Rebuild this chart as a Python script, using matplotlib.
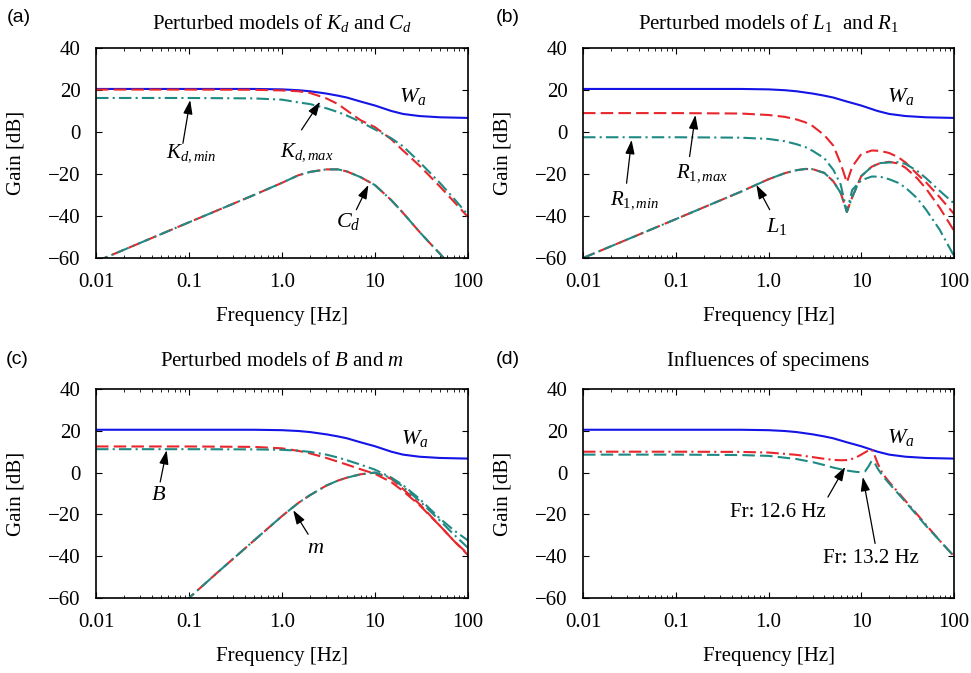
import matplotlib
matplotlib.use('Agg')
import matplotlib.pyplot as plt
from matplotlib.ticker import NullFormatter

plt.rcParams['font.family'] = ['Liberation Serif', 'DejaVu Serif']
plt.rcParams['mathtext.fontset'] = 'custom'
plt.rcParams['mathtext.rm'] = 'Liberation Serif'
plt.rcParams['mathtext.it'] = 'Liberation Serif:italic'
plt.rcParams['mathtext.bf'] = 'Liberation Serif:bold'

# ---- data (frequency in Hz, gain in dB) ----
xticks = [0.01, 0.1, 1, 10, 100]
xticklabels = ['0.01', '0.1', '1.0', '10', '100']
yticks = [-60, -40, -20, 0, 20, 40]
yticklabels = ['\u221260', '\u221240', '\u221220', '0', '20', '40']

# weighting function W_a (same in all panels)
wa_f = [0.01, 0.1, 0.5, 1, 1.5, 2, 3, 4, 5, 7, 10, 15, 20, 30, 50, 100]
wa_g = [20.5, 20.5, 20.5, 20.3, 19.9, 19.4, 18.3, 17.3, 16.4, 14.5, 12.6, 10.0, 8.6, 7.6, 7.0, 6.7]

# (a) K_d and C_d
a_f = [0.01, 0.1, 0.5, 1, 1.5, 2, 3, 4, 5, 7, 10, 15, 20, 30, 50, 70, 100]
kd_max = [20.2, 20.2, 20.1, 19.8, 19.4, 18.6, 16.0, 13.3, 10.2, 5.6, 2.3, -3.5, -8.8, -16.0, -26.0, -33.0, -40.5]
kd_min = [16.2, 16.2, 16.0, 15.4, 14.1, 13.3, 11.3, 9.5, 7.8, 4.8, 1.2, -3.0, -6.8, -14.2, -24.3, -31.5, -39.5]
cd_f = [0.01, 0.1, 0.5, 1, 1.5, 2, 3, 4, 5, 7, 10, 15, 20, 30, 40, 50, 60]
cd_g = [-61.7, -43.0, -30.0, -24.2, -20.6, -19.0, -17.8, -17.8, -18.8, -21.5, -25.3, -32.5, -38.5, -47.5, -53.5, -58.0, -62.0]

# (b) L_1 and R_1
b_f = [0.01, 0.1, 0.5, 1, 1.5, 2, 2.5, 3, 4, 5, 6, 7, 8, 10, 13, 16, 20, 25, 30, 40, 50, 70, 100]
r1_max = [9.0, 9.0, 8.8, 8.1, 7.2, 6.0, 4.6, 2.8, -1.5, -6.5, -15.0, -24.0, -16.5, -10.5, -8.8, -9.0, -10.0, -12.0, -14.5, -20.0, -24.0, -31.0, -39.0]
r1_min = [-2.5, -2.5, -2.7, -3.3, -4.4, -5.8, -7.2, -9.0, -12.5, -18.0, -25.0, -38.0, -27.5, -23.0, -21.2, -21.3, -22.5, -24.2, -26.5, -31.5, -37.0, -46.5, -59.0]
l1_red = [-60.0, -41.5, -28.5, -22.5, -19.6, -18.2, -17.6, -17.7, -19.5, -23.5, -29.0, -38.0, -31.0, -21.0, -16.5, -14.8, -14.2, -15.0, -17.0, -22.0, -27.0, -36.0, -47.0]
l1_teal = [-60.0, -41.5, -28.5, -22.5, -19.6, -18.2, -17.6, -17.7, -19.5, -23.5, -29.0, -38.0, -31.0, -21.0, -16.5, -14.8, -14.5, -14.4, -15.2, -18.5, -22.0, -28.0, -34.0]

# (c) B and m
c_f = [0.01, 0.1, 0.5, 1, 1.5, 2, 3, 4, 5, 7, 10, 15, 20, 30, 50, 70, 100]
b_red = [12.5, 12.5, 12.3, 11.6, 10.4, 9.2, 7.0, 5.2, 3.8, 1.6, -0.6, -4.6, -8.8, -15.5, -25.5, -32.5, -39.0]
b_teal = [11.2, 11.2, 11.1, 10.9, 10.5, 9.9, 8.6, 7.2, 5.9, 3.8, 1.4, -2.4, -6.0, -12.5, -22.0, -27.5, -32.5]
m_f = [0.09, 0.1, 0.2, 0.5, 1, 1.5, 2, 3, 4, 5, 7, 10, 15, 20, 30, 50, 70, 100]
m_red = [-62.0, -60.0, -48.0, -32.5, -20.8, -14.5, -10.8, -6.2, -3.8, -2.4, -0.8, 0.0, -3.0, -7.8, -15.0, -25.5, -32.5, -39.5]
m_teal = [-62.0, -60.0, -48.0, -32.5, -20.8, -14.5, -10.8, -6.2, -3.8, -2.4, -0.8, 0.0, -2.5, -6.8, -13.5, -23.0, -29.5, -36.0]

# (d) specimens
d_f = [0.01, 0.1, 0.5, 1, 2, 3, 4, 5, 6, 7, 8, 9, 10, 11, 12, 13, 14, 15, 17, 20, 30, 50, 70, 100]
spec_126 = [10.0, 10.0, 9.9, 9.6, 8.5, 7.4, 6.6, 6.1, 5.9, 6.0, 6.6, 7.5, 8.6, 9.7, 10.6, 11.0, 8.0, 4.5, -0.5, -4.5, -13.5, -25.0, -32.5, -40.0]
spec_132 = [8.6, 8.6, 8.4, 8.0, 6.5, 5.0, 3.6, 2.4, 1.6, 1.0, 0.6, 0.3, 0.2, 0.6, 3.0, 5.8, 4.5, 2.0, -1.5, -5.2, -14.0, -25.5, -32.5, -40.0]

blue = '#1414e6'
red = '#e8262b'
teal = '#1f8a84'
dash = (0, (6, 2.5))
dashdot = (0, (6, 2, 1, 2))
lw = 1.5
fs = 15

fig = plt.figure(figsize=(9.71, 6.73), dpi=100)

boxes = [
    [96 / 971, 1 - 258 / 673, 372 / 971, 210 / 673],
    [583 / 971, 1 - 258 / 673, 371 / 971, 210 / 673],
    [96 / 971, 1 - 598 / 673, 372 / 971, 209 / 673],
    [583 / 971, 1 - 598 / 673, 371 / 971, 209 / 673],
]
axes = [fig.add_axes(b) for b in boxes]


def setup(ax, title, ty):
    ax.set_xscale('log')
    ax.set_xlim(0.01, 100)
    ax.set_ylim(-60, 40)
    ax.set_xticks(xticks, xticklabels)
    ax.set_yticks(yticks, yticklabels)
    ax.xaxis.set_minor_formatter(NullFormatter())
    ax.tick_params(which='both', direction='in', top=True, right=True, labelsize=fs, pad=11)
    ax.tick_params(which='major', length=4.5, width=0.8)
    ax.tick_params(which='minor', length=2.5, width=0.6)
    for s in ax.spines.values():
        s.set_linewidth(1.2)
    ax.set_xlabel('Frequency [Hz]', fontsize=fs)
    ax.set_ylabel('Gain [dB]', fontsize=fs)
    ax.xaxis.set_label_coords(0.5, -0.235)
    ax.yaxis.set_label_coords(-0.19, 0.5)
    ax.text(0.5, ty, title, transform=ax.transAxes, ha='center', va='baseline', fontsize=fs)
    ax.plot(wa_f, wa_g, color=blue, lw=lw)


def arrow(ax, start, tip):
    ax.annotate('', xy=tip, xytext=start,
                arrowprops=dict(arrowstyle='-|>,head_length=0.6,head_width=0.2', color='k',
                                lw=0.9, shrinkA=0, shrinkB=0, mutation_scale=14))


def label(ax, pos, s, size=fs):
    ax.text(pos[0], pos[1], s, ha='center', va='center', fontsize=size)


# (a)
ax = axes[0]
setup(ax, r'Perturbed models of $K_d$ and $C_d$', 1.09)
ax.plot(a_f, kd_max, color=red, lw=lw, ls=dash)
ax.plot(a_f, kd_min, color=teal, lw=lw, ls=dashdot)
ax.plot(cd_f, cd_g, color=red, lw=lw, ls=dash)
ax.plot(cd_f, cd_g, color=teal, lw=lw, ls=dashdot)
label(ax, (25.6, 16.8), r'$W_a$', 16)
label(ax, (0.107, -10.2), r'$K_{d,min}$')
arrow(ax, (0.086, -5.4), (0.103, 15.2))
label(ax, (1.84, -9.4), r'$K_{d,max}$')
arrow(ax, (1.62, 1.0), (2.57, 14.4))
label(ax, (5.2, -42.7), r'$C_d$', 16)
arrow(ax, (6.3, -37), (8.5, -25.2))

# (b)
ax = axes[1]
setup(ax, r'Perturbed models of $L_1$  and $R_1$', 1.09)
ax.plot(b_f, r1_max, color=red, lw=lw, ls=dash)
ax.plot(b_f, r1_min, color=teal, lw=lw, ls=dashdot)
ax.plot(b_f, l1_red, color=red, lw=lw, ls=dash)
ax.plot(b_f, l1_teal, color=teal, lw=lw, ls=dashdot)
label(ax, (26.9, 16.8), r'$W_a$', 16)
label(ax, (0.19, -19.7), r'$R_{1,max}$')
arrow(ax, (0.141, -11.7), (0.163, 8.1))
label(ax, (0.036, -32.4), r'$R_{1,min}$')
arrow(ax, (0.0295, -24.4), (0.0334, -3.8))
label(ax, (1.22, -45), r'$L_1$', 16)
arrow(ax, (1.03, -37), (0.74, -25.2))

# (c)
ax = axes[2]
setup(ax, r'Perturbed models of $B$ and $m$', 1.108)
ax.plot(c_f, b_red, color=red, lw=lw, ls=dash)
ax.plot(c_f, b_teal, color=teal, lw=lw, ls=dashdot)
ax.plot(m_f, m_red, color=red, lw=lw, ls=dash)
ax.plot(m_f, m_teal, color=teal, lw=lw, ls=dashdot)
label(ax, (26.9, 16.2), r'$W_a$', 16)
label(ax, (0.047, -10.9), r'$B$', 16)
arrow(ax, (0.049, -4.5), (0.0575, 10.7))
label(ax, (2.32, -36.4), r'$m$', 16)
arrow(ax, (1.91, -29.5), (1.32, -18))

# (d)
ax = axes[3]
setup(ax, 'Influences of specimens', 1.108)
ax.plot(d_f, spec_126, color=red, lw=lw, ls=dashdot)
ax.plot(d_f, spec_132, color=teal, lw=lw, ls=dash)
label(ax, (26.9, 17), r'$W_a$', 16)
label(ax, (1.27, -19.3), 'Fr: 12.6 Hz')
arrow(ax, (4.37, -11.7), (6.7, 2.7))
label(ax, (12.8, -41.1), 'Fr: 13.2 Hz')
arrow(ax, (14.1, -33.9), (10.4, -2.1))

# panel letters
for s, x, y in [('(a)', 7, 17), ('(b)', 496, 18), ('(c)', 6, 359), ('(d)', 496, 360)]:
    fig.text(x / 971, 1 - y / 673, s, family='Liberation Sans', fontsize=14, va='center', ha='left')

fig.savefig('out.png', dpi=100)
